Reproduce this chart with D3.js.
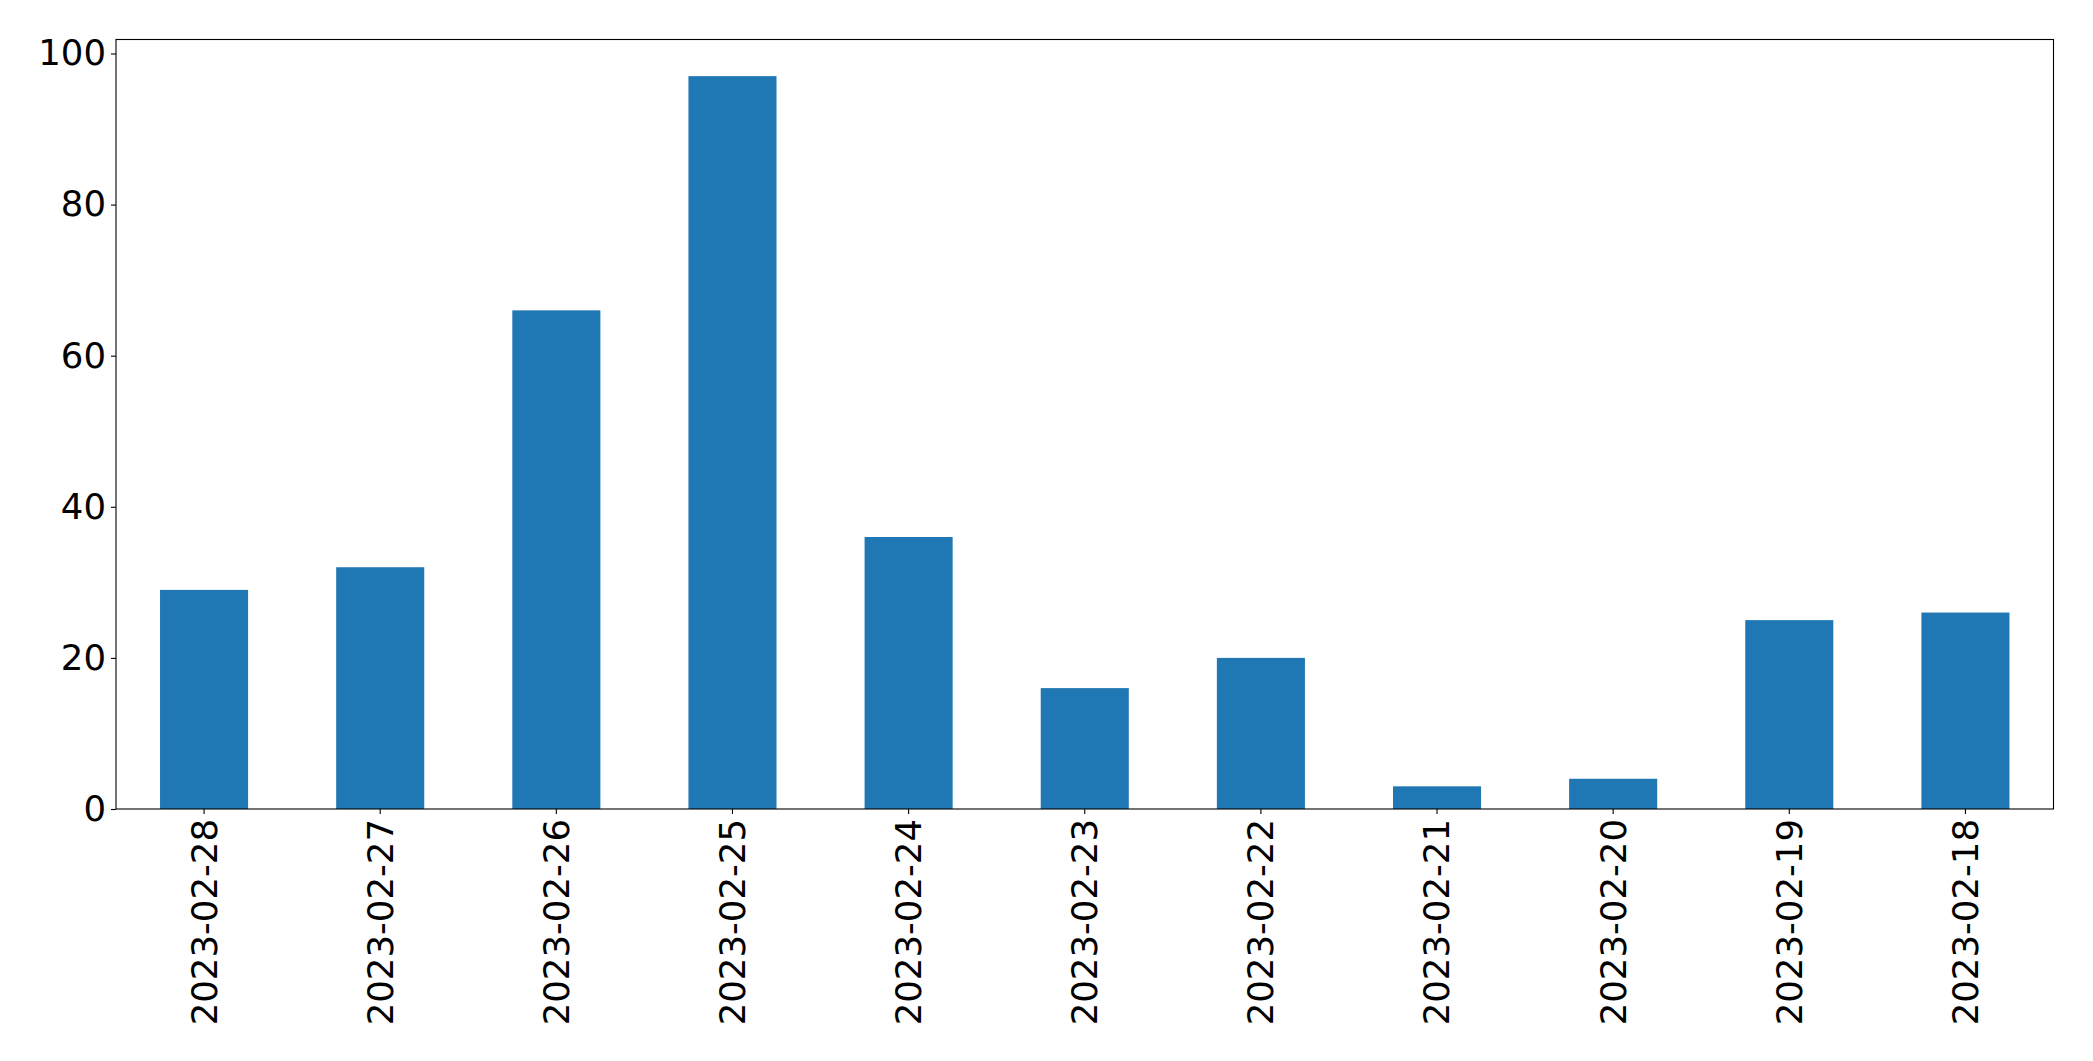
<!DOCTYPE html>
<html>
<head>
<meta charset="utf-8">
<script src="https://cdn.jsdelivr.net/npm/d3@7"></script>
<style>
  html, body { margin: 0; padding: 0; background: #fff; }
  svg { display: block; }
  text { font-family: "DejaVu Sans", sans-serif; }
</style>
</head>
<body>
<script>
const categories = ["2023-02-28","2023-02-27","2023-02-26","2023-02-25","2023-02-24","2023-02-23","2023-02-22","2023-02-21","2023-02-20","2023-02-19","2023-02-18"];
const values = [29, 32, 66, 97, 36, 16, 20, 3, 4, 25, 26];
const yTicks = [0, 20, 40, 60, 80, 100];

const W = 2093, H = 1061;
const margin = {left: 116, top: 39.5, right: W - 2053.5, bottom: H - 809};
const iw = W - margin.left - margin.right;
const ih = H - margin.top - margin.bottom;

const svg = d3.select("body").append("svg").attr("width", W).attr("height", H);
const g = svg.append("g").attr("transform", `translate(${margin.left},${margin.top})`);

const x = d3.scaleBand().domain(categories).range([0, iw]).padding(0);
const y = d3.scaleLinear().domain([0, d3.max(values) * 1.05]).range([ih, 0]);

g.selectAll("rect.bar").data(values).enter().append("rect")
  .attr("class", "bar")
  .attr("x", (d, i) => x(categories[i]) + x.bandwidth() * 0.25)
  .attr("width", x.bandwidth() * 0.5)
  .attr("y", d => y(d))
  .attr("height", d => ih - y(d))
  .attr("fill", "#1f77b4");

const fs = 35.5;
const yAxis = g.append("g")
  .call(d3.axisLeft(y).tickValues(yTicks).tickSize(5).tickPadding(5).tickFormat(d3.format("d")));
yAxis.select(".domain").remove();
yAxis.selectAll("text").attr("font-size", fs).attr("fill", "#000").attr("font-family", "DejaVu Sans");
yAxis.selectAll("line").attr("stroke", "#000").attr("stroke-width", 1.1);

const xAxis = g.append("g").attr("transform", `translate(0,${ih})`)
  .call(d3.axisBottom(x).tickSize(5).tickPadding(5));
xAxis.select(".domain").remove();
xAxis.selectAll("line").attr("stroke", "#000").attr("stroke-width", 1.1);
xAxis.selectAll("text")
  .attr("font-size", fs).attr("fill", "#000").attr("font-family", "DejaVu Sans")
  .attr("transform", "rotate(-90)")
  .attr("x", -10).attr("y", 0).attr("dy", "0.35em")
  .attr("text-anchor", "end");

g.append("rect").attr("x", 0).attr("y", 0).attr("width", iw).attr("height", ih)
  .attr("fill", "none").attr("stroke", "#000").attr("stroke-width", 1.1);
</script>
</body>
</html>
